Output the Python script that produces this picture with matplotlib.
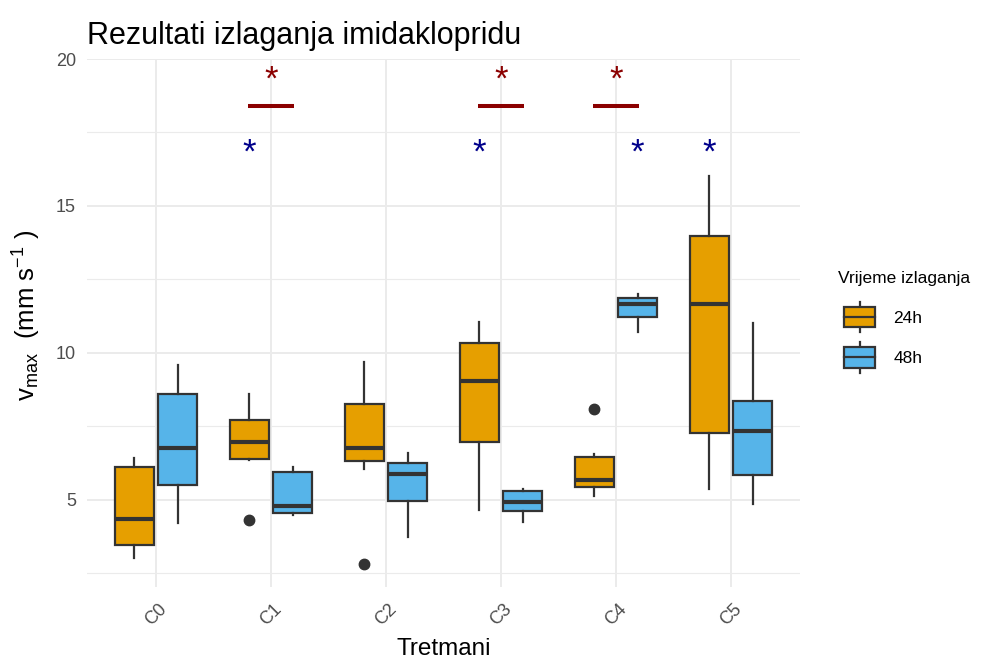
import matplotlib
matplotlib.use("Agg")
import matplotlib.pyplot as plt
from matplotlib.patches import Rectangle
from matplotlib.lines import Line2D
from matplotlib.legend_handler import HandlerBase

plt.rcParams['font.family'] = ['Liberation Sans', 'DejaVu Sans']
plt.rcParams['mathtext.fontset'] = 'custom'
plt.rcParams['mathtext.rm'] = 'Liberation Sans'
plt.rcParams['mathtext.default'] = 'regular'

categories = ['C0', 'C1', 'C2', 'C3', 'C4', 'C5']
groups = ['24h', '48h']
colors = ['#E69F00', '#56B4E9']

# box stats
lo_24 = [3.00, 6.35, 6.04, 4.64, 5.14, 5.37]
q1_24 = [3.47, 6.38, 6.33, 6.95, 5.45, 7.27]
med_24 = [4.33, 6.95, 6.75, 9.05, 5.68, 11.66]
q3_24 = [6.13, 7.70, 8.27, 10.32, 6.47, 13.99]
hi_24 = [6.42, 8.59, 9.68, 11.06, 6.56, 16.03]
out_24 = [[], [4.32], [2.82], [], [8.09], []]

lo_48 = [4.22, 4.49, 3.72, 4.23, 10.72, 4.86]
q1_48 = [5.51, 4.55, 4.96, 4.63, 11.23, 5.84]
med_48 = [6.76, 4.77, 5.87, 4.91, 11.67, 7.35]
q3_48 = [8.59, 5.95, 6.25, 5.31, 11.86, 8.37]
hi_48 = [9.57, 6.11, 6.59, 5.36, 12.01, 11.01]
out_48 = [[], [], [], [], [], []]

# significance marks
sig_between = ['C1', 'C3', 'C4']   # 24h vs 48h (dark red)
sig_24 = ['C1', 'C3', 'C5']        # 24h vs control (dark blue)
sig_48 = ['C4']                    # 48h vs control (dark blue)
y_bar, y_star_red, y_star_blue = 18.4, 19.49, 16.99

dodge = 0.1875
box_w = 0.3375
edge = '#333333'


def stats_list(lo, q1, med, q3, hi, out):
    return [dict(whislo=a, q1=b, med=c, q3=d, whishi=e, fliers=f)
            for a, b, c, d, e, f in zip(lo, q1, med, q3, hi, out)]


fig = plt.figure(figsize=(9.82, 6.59), dpi=100)
ax = fig.add_axes([87 / 982, 72 / 659, 713 / 982, 528 / 659])

all_stats = [stats_list(lo_24, q1_24, med_24, q3_24, hi_24, out_24),
             stats_list(lo_48, q1_48, med_48, q3_48, hi_48, out_48)]
for k, st in enumerate(all_stats):
    pos = [i + (k * 2 - 1) * dodge for i in range(len(categories))]
    ax.bxp(st, positions=pos, widths=box_w, patch_artist=True, showcaps=False,
           boxprops=dict(facecolor=colors[k], edgecolor=edge, linewidth=1.6),
           medianprops=dict(color=edge, linewidth=3.0, solid_capstyle='butt'),
           whiskerprops=dict(color=edge, linewidth=1.6),
           flierprops=dict(marker='o', markerfacecolor=edge, markeredgecolor=edge,
                           markersize=7.5))

star_fs = 25


def star(x, y, color):
    ax.annotate('*', (x, y), xytext=(0, -0.44 * star_fs), textcoords='offset points',
                ha='center', va='baseline', fontsize=star_fs, color=color)


for c in sig_between:
    i = categories.index(c)
    ax.plot([i - 0.2, i + 0.2], [y_bar, y_bar], color='#8B0000', linewidth=2.9,
            solid_capstyle='butt')
    star(i, y_star_red, '#8B0000')
for c in sig_24:
    star(categories.index(c) - dodge, y_star_blue, '#00008B')
for c in sig_48:
    star(categories.index(c) + dodge, y_star_blue, '#00008B')

ax.set_xlim(-0.6, 5.6)
ax.set_ylim(2.03, 20.0)
ax.set_xticks(range(len(categories)))
ax.set_xticklabels(categories, rotation=45, ha='center')
ax.set_yticks([5, 10, 15, 20])
ax.set_yticks([2.5, 7.5, 12.5, 17.5], minor=True)
ax.tick_params(axis='both', which='both', length=0, labelsize=13, labelcolor='#4D4D4D')
ax.tick_params(axis='x', pad=10)
ax.tick_params(axis='y', pad=8)
ax.grid(which='major', color='#EBEBEB', linewidth=1.4)
ax.grid(which='minor', axis='y', color='#EBEBEB', linewidth=0.8)
ax.set_axisbelow(True)
for s in ax.spines.values():
    s.set_visible(False)

ax.set_xlabel('Tretmani', fontsize=17.5, labelpad=6)
ax.set_ylabel(r'v$_{max}$  (mm s$^{-1}$ )', fontsize=18.5)
ax.yaxis.set_label_coords(-0.062, 0.515)
ax.set_title('Rezultati izlaganja imidaklopridu', loc='left', fontsize=22, pad=11)


class BoxKey(HandlerBase):
    def create_artists(self, legend, orig_handle, xdescent, ydescent, width, height,
                       fontsize, trans):
        x0 = -xdescent + 0.162 * width
        w = 0.81 * width
        y0 = -ydescent
        xc = x0 + w / 2
        wh = Line2D([xc, xc], [y0, y0 + height], color=edge, linewidth=1.6, transform=trans)
        box = Rectangle((x0, y0 + 0.16 * height), w, 0.68 * height,
                        facecolor=orig_handle.get_facecolor(), edgecolor=edge,
                        linewidth=1.6, transform=trans)
        md = Line2D([x0, x0 + w], [y0 + height / 2] * 2, color=edge, linewidth=1.6,
                    transform=trans)
        return [wh, box, md]


handles = [Rectangle((0, 0), 1, 1, facecolor=c) for c in colors]
leg = fig.legend(handles, groups, title='Vrijeme izlaganja', loc='upper left',
                 bbox_to_anchor=(838 / 982, 1 - 271 / 659), frameon=False,
                 handler_map={Rectangle: BoxKey()}, fontsize=12.5, title_fontsize=12.5,
                 alignment='left', borderpad=0, borderaxespad=0, handlelength=2.2,
                 handleheight=2.3, handletextpad=1.0, labelspacing=0.58)
# a bit more room between the legend title and the keys
leg._legend_box.sep = 11.6

fig.savefig('out.png', dpi=100)
